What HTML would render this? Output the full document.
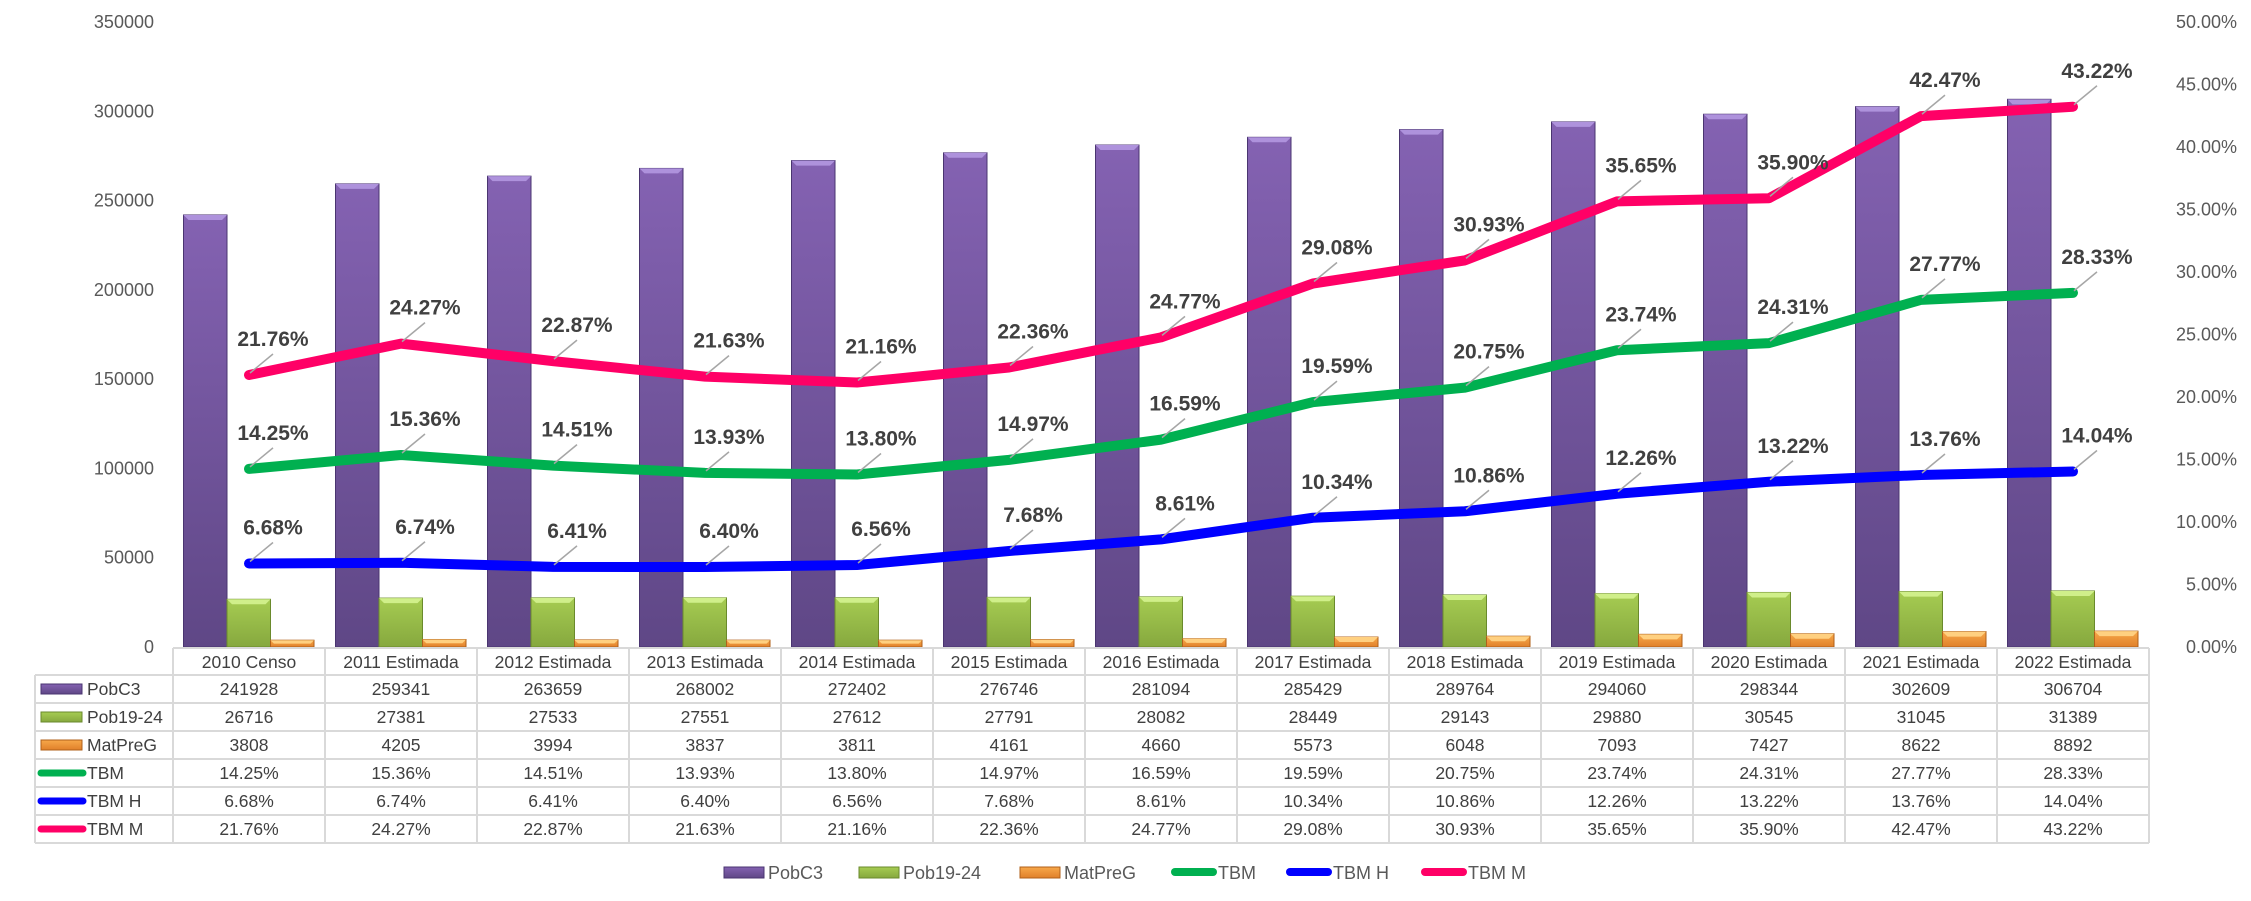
<!DOCTYPE html>
<html><head><meta charset="utf-8"><style>
html,body{margin:0;padding:0;background:#fff;}
svg{display:block;font-family:"Liberation Sans",Arial,sans-serif;}
</style></head><body>
<svg id="chart" width="2251" height="901" viewBox="0 0 2251 901" xmlns="http://www.w3.org/2000/svg">
<defs>
<linearGradient id="gP" x1="0" y1="0" x2="0" y2="1"><stop offset="0" stop-color="#8462b2"/><stop offset="1" stop-color="#5f4786"/></linearGradient>
<linearGradient id="gG" x1="0" y1="0" x2="0" y2="1"><stop offset="0" stop-color="#a6cc52"/><stop offset="1" stop-color="#86a83e"/></linearGradient>
<linearGradient id="gO" x1="0" y1="0" x2="0" y2="1"><stop offset="0" stop-color="#f7a84a"/><stop offset="1" stop-color="#e0802a"/></linearGradient>
</defs>
<g id="plot"></g>
</svg>
<script>
const categories=["2010 Censo","2011 Estimada","2012 Estimada","2013 Estimada","2014 Estimada","2015 Estimada","2016 Estimada","2017 Estimada","2018 Estimada","2019 Estimada","2020 Estimada","2021 Estimada","2022 Estimada"];
const pobC3=[241928,259341,263659,268002,272402,276746,281094,285429,289764,294060,298344,302609,306704];
const pob1924=[26716,27381,27533,27551,27612,27791,28082,28449,29143,29880,30545,31045,31389];
const matPreG=[3808,4205,3994,3837,3811,4161,4660,5573,6048,7093,7427,8622,8892];
const tbm=[14.25,15.36,14.51,13.93,13.80,14.97,16.59,19.59,20.75,23.74,24.31,27.77,28.33];
const tbmH=[6.68,6.74,6.41,6.40,6.56,7.68,8.61,10.34,10.86,12.26,13.22,13.76,14.04];
const tbmM=[21.76,24.27,22.87,21.63,21.16,22.36,24.77,29.08,30.93,35.65,35.90,42.47,43.22];
const leftTicks=[0,50000,100000,150000,200000,250000,300000,350000];
const rightTicks=[0,5,10,15,20,25,30,35,40,45,50];

const NS="http://www.w3.org/2000/svg";
const g=document.getElementById('plot');
const X0=173,CW=152,Y0=647,YT=22;
const yL=v=>Y0-(v/350000)*(Y0-YT);
const yR=v=>Y0-(v/50)*(Y0-YT);
const xC=i=>X0+CW*i+CW/2;
function el(t,a,p){const e=document.createElementNS(NS,t);for(const k in a)e.setAttribute(k,a[k]);(p||g).appendChild(e);return e;}
function txt(s,a,p){const e=el('text',a,p);e.textContent=s;return e;}

leftTicks.forEach(v=>{
  const t=txt(String(v),{x:154,y:yL(v)+6,'text-anchor':'end','font-size':18,fill:'#595959'});
  
  
});
rightTicks.forEach(v=>{
  const t=txt(v.toFixed(2)+'%',{x:2237,y:yR(v)+6,'text-anchor':'end','font-size':18,fill:'#595959'});
  
  
});

const BW=43.5;
function bar(i,k,v,fill,dark,light,name){
  const x=xC(i)-65.5+k*BW, y=yL(v), h=Y0-y;
  const b=el('rect',{x:x,y:y,width:BW,height:h,fill:fill,stroke:dark,'stroke-width':1});
  
  
  const bev=Math.min(5,h/2);
  el('polygon',{points:`${x},${y} ${x+BW},${y} ${x+BW-bev},${y+bev} ${x+bev},${y+bev}`,fill:light});
}
categories.forEach((c,i)=>{
  bar(i,0,pobC3[i],'url(#gP)','#4a3570','#ae92dc','bar-pobc3');
  bar(i,1,pob1924[i],'url(#gG)','#6a8a2c','#d0ef8a','bar-pob19-24');
  bar(i,2,matPreG[i],'url(#gO)','#b0601a','#ffd080','bar-matpreg');
});

function line(arr,color,name){
  const pts=arr.map((v,i)=>xC(i)+','+yR(v)).join(' ');
  const l=el('polyline',{points:pts,fill:'none',stroke:color,'stroke-width':10,'stroke-linecap':'round','stroke-linejoin':'round'});
  
  
  arr.forEach((v,i)=>{
    const x=xC(i),y=yR(v);
    el('line',{x1:x+1,y1:y-2,x2:x+24,y2:y-21,stroke:'#a6a6a6','stroke-width':1.5});
    const t=txt(v.toFixed(2)+'%',{x:x+24,y:y-29,'text-anchor':'middle','font-size':21,'font-weight':'bold',fill:'#404040'});
    
    
  });
}
line(tbm,'#00b050','line-tbm');
line(tbmH,'#0000ff','line-tbm-h');
line(tbmM,'#ff0066','line-tbm-m');

const GC='#d9d9d9';
const rows=[648,675,703,731,759,787,815,843];
el('line',{x1:X0,y1:648,x2:2149,y2:648,stroke:GC,'stroke-width':2});
for(let r=1;r<rows.length;r++) el('line',{x1:35,y1:rows[r],x2:2149,y2:rows[r],stroke:GC,'stroke-width':2});
el('line',{x1:35,y1:675,x2:35,y2:843,stroke:GC,'stroke-width':2});
for(let i=0;i<=13;i++) el('line',{x1:X0+CW*i,y1:648,x2:X0+CW*i,y2:843,stroke:GC,'stroke-width':2});
categories.forEach((c,i)=>{
  const t=txt(c,{x:xC(i),y:668,'text-anchor':'middle','font-size':17.5,fill:'#404040'});
  
  
});
const series=[[pobC3,v=>String(v)],[pob1924,v=>String(v)],[matPreG,v=>String(v)],[tbm,v=>v.toFixed(2)+'%'],[tbmH,v=>v.toFixed(2)+'%'],[tbmM,v=>v.toFixed(2)+'%']];
const names=['PobC3','Pob19-24','MatPreG','TBM','TBM H','TBM M'];
const keyF=[['url(#gP)','#4a3570'],['url(#gG)','#6a8a2c'],['url(#gO)','#b0601a'],['#00b050'],['#0000ff'],['#ff0066']];
series.forEach((s,r)=>{
  const cy=(rows[r+1]+rows[r+2])/2;
  if(r<3){el('rect',{x:41,y:cy-5,width:41,height:10,fill:keyF[r][0],stroke:keyF[r][1]});}
  else{el('line',{x1:41,y1:cy,x2:83,y2:cy,stroke:keyF[r][0],'stroke-width':7,'stroke-linecap':'round'});}
  const n=txt(names[r],{x:87,y:cy+6,'font-size':17.5,fill:'#404040'});
  
  
  s[0].forEach((v,i)=>{
    const t=txt(s[1](v),{x:xC(i),y:cy+6,'text-anchor':'middle','font-size':17.5,fill:'#404040'});
    
    
  });
});

const lx=[724,859,1020,1171,1286,1421];
names.forEach((n,i)=>{
  const gg=el('g',{});
  
  
  if(i<3) el('rect',{x:lx[i],y:867,width:40,height:11,fill:keyF[i][0],stroke:keyF[i][1]},gg);
  else el('line',{x1:lx[i]+4,y1:872,x2:lx[i]+42,y2:872,stroke:keyF[i][0],'stroke-width':8,'stroke-linecap':'round'},gg);
  txt(n,{x:lx[i]+(i<3?44:47),y:879,'font-size':18,fill:'#595959'},gg);
});
</script>
</body></html>
